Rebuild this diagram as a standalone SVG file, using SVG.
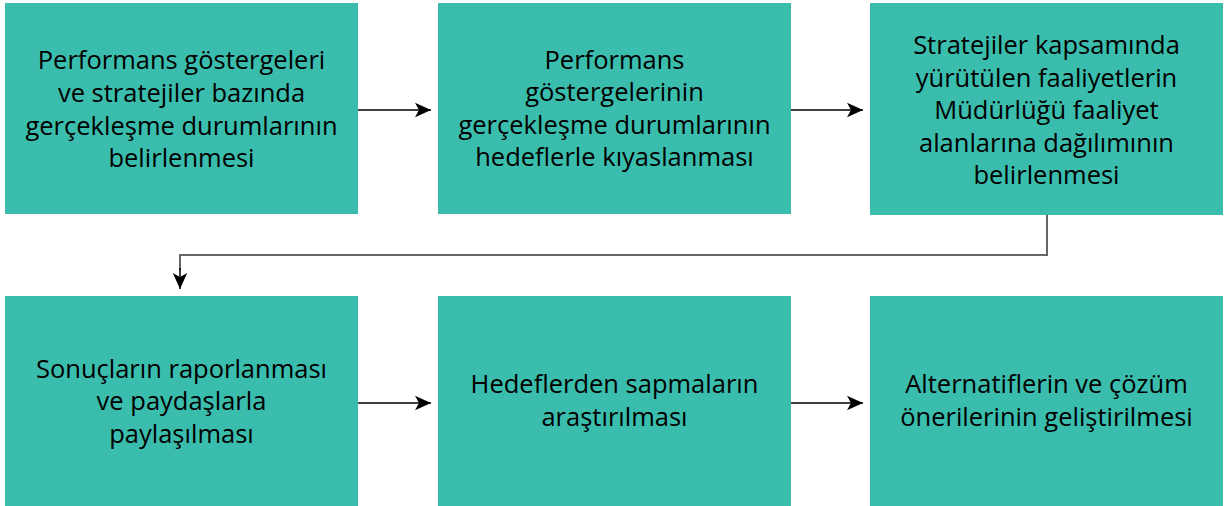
<svg xmlns="http://www.w3.org/2000/svg" width="1227" height="506" viewBox="0 0 1227 506">
<defs>
<style>
.box{fill:#3bbdad}
.t{font-family:"Open Sans","Liberation Sans",sans-serif;font-size:25.5px;fill:#000;text-anchor:middle}
.c{fill:none;stroke:#000;stroke-width:1.5}
.g{fill:none;stroke:#666;stroke-width:2}
</style>
<marker id="ah2" viewBox="0 0 10 10" refX="10" refY="5" markerWidth="16" markerHeight="16" markerUnits="userSpaceOnUse" orient="auto">
<path d="M0,0.5 L10,5 L0,9.5 L2.5,5 Z" fill="#000"/>
</marker>
</defs>
<rect width="1227" height="506" fill="#fff"/>
<g id="connectors">
<line class="c" x1="358" y1="110" x2="431" y2="110" marker-end="url(#ah2)"/>
<line class="c" x1="791" y1="110" x2="863" y2="110" marker-end="url(#ah2)"/>
<line class="c" x1="358" y1="403" x2="431" y2="403" marker-end="url(#ah2)"/>
<line class="c" x1="791" y1="403" x2="863" y2="403" marker-end="url(#ah2)"/>
<polyline class="g" points="1047,215 1047,255 180,255 180,270"/>
<line class="c" x1="180" y1="268" x2="180" y2="289" marker-end="url(#ah2)"/>
</g>
<g id="n1">
<rect class="box" x="5" y="3" width="353" height="211"/>
<text class="t" x="181.5" y="69">Performans göstergeleri</text>
<text class="t" x="181.5" y="102">ve stratejiler bazında</text>
<text class="t" x="181.5" y="135">gerçekleşme durumlarının</text>
<text class="t" x="181.5" y="167">belirlenmesi</text>
</g>
<g id="n2">
<rect class="box" x="438" y="3" width="353" height="211"/>
<text class="t" x="614.5" y="69">Performans</text>
<text class="t" x="614.5" y="101">göstergelerinin</text>
<text class="t" x="614.5" y="134">gerçekleşme durumlarının</text>
<text class="t" x="614.5" y="166">hedeflerle kıyaslanması</text>
</g>
<g id="n3">
<rect class="box" x="870" y="3" width="353" height="212"/>
<text class="t" x="1046.5" y="54">Stratejiler kapsamında</text>
<text class="t" x="1046.5" y="87">yürütülen faaliyetlerin</text>
<text class="t" x="1046.5" y="119">Müdürlüğü faaliyet</text>
<text class="t" x="1046.5" y="152">alanlarına dağılımının</text>
<text class="t" x="1046.5" y="184">belirlenmesi</text>
</g>
<g id="n4">
<rect class="box" x="5" y="296" width="353" height="210"/>
<text class="t" x="181.5" y="378">Sonuçların raporlanması</text>
<text class="t" x="181.5" y="410">ve paydaşlarla</text>
<text class="t" x="181.5" y="443">paylaşılması</text>
</g>
<g id="n5">
<rect class="box" x="438" y="296" width="353" height="210"/>
<text class="t" x="614.5" y="393">Hedeflerden sapmaların</text>
<text class="t" x="614.5" y="426">araştırılması</text>
</g>
<g id="n6">
<rect class="box" x="870" y="296" width="353" height="210"/>
<text class="t" x="1046.5" y="393">Alternatiflerin ve çözüm</text>
<text class="t" x="1046.5" y="426">önerilerinin geliştirilmesi</text>
</g>
</svg>
